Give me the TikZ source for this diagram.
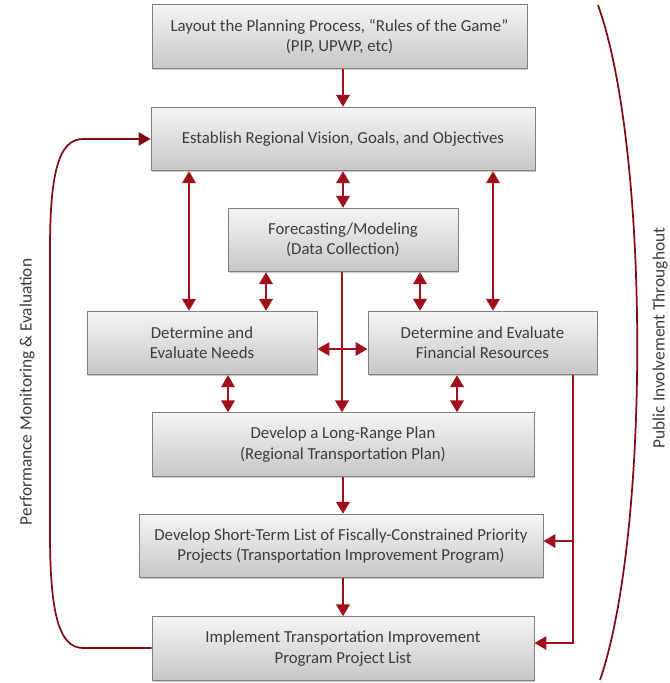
\documentclass[tikz,border=0pt]{standalone}
\usepackage{fontspec}
\setmainfont{Carlito}
\usetikzlibrary{arrows.meta,shadows}
\definecolor{arrred}{RGB}{160,16,28}
\definecolor{boxtxt}{RGB}{60,60,60}
\definecolor{boxline}{RGB}{128,128,128}
\tikzset{
  box/.style={draw=boxline, line width=0.7pt, top color=black!4, bottom color=black!22,
    minimum height=47.5pt, align=center, text=boxtxt, inner sep=2pt,
    font=\fontsize{12.6}{15.3}\selectfont,
    drop shadow={shadow xshift=1pt, shadow yshift=-1pt, opacity=0.35, fill=black!60}},
  arr/.style={draw=arrred, line width=1.9pt, -{Triangle[width=10pt,length=9pt]}},
  dbl/.style={draw=arrred, line width=1.9pt, {Triangle[width=10pt,length=9pt]}-{Triangle[width=10pt,length=9pt]}},
  side/.style={draw=arrred!80!black, line width=1.3pt},
  sidetxt/.style={text=boxtxt, font=\fontsize{13}{15}\selectfont, rotate=90}
}
\begin{document}
\begin{tikzpicture}[x=0.75pt,y=-0.75pt]
\useasboundingbox (0,0) rectangle (669,683);
% boxes
\node[box, minimum width=375*0.75pt] (lay) at (339.5,36.5) {Layout the Planning Process, “Rules of the Game”\\(PIP, UPWP, etc)};
\node[box, minimum width=384*0.75pt] (est) at (343,139) {Establish Regional Vision, Goals, and Objectives};
\node[box, minimum width=230*0.75pt] (fore) at (343,240) {Forecasting/Modeling\\(Data Collection)};
\node[box, minimum width=230*0.75pt] (needs) at (202,343) {Determine and\\Evaluate Needs};
\node[box, minimum width=229*0.75pt] (fin) at (482.5,343) {Determine and Evaluate\\Financial Resources};
\node[box, minimum width=382*0.75pt] (lrp) at (343,444.5) {Develop a Long-Range Plan\\(Regional Transportation Plan)};
\node[box, minimum width=404*0.75pt] (st) at (341,546) {Develop Short-Term List of Fiscally-Constrained Priority\\Projects (Transportation Improvement Program)};
\node[box, minimum width=382*0.75pt] (impl) at (343,648.5) {Implement Transportation Improvement\\Program Project List};
% side labels
\node[sidetxt] (pme) at (27,392) {Performance Monitoring \& Evaluation};
\node[sidetxt] (pit) at (660,338) {Public Involvement Throughout};
% main arrows
\draw[arr] (lay.south -| 343,0) -- (est.north -| 343,0);
\draw[dbl] (est.south -| 189,0) -- (needs.north -| 189,0);
\draw[dbl] (est.south -| 343,0) -- (fore.north -| 343,0);
\draw[dbl] (est.south -| 493,0) -- (fin.north -| 493,0);
\draw[dbl] (fore.south -| 266,0) -- (needs.north -| 266,0);
\draw[dbl] (fore.south -| 420,0) -- (fin.north -| 420,0);
\draw[arr] (fore.south -| 342,0) -- (lrp.north -| 342,0);
\draw[dbl] (needs.east |- 0,349) -- (fin.west |- 0,349);
\draw[dbl] (needs.south -| 228,0) -- (lrp.north -| 228,0);
\draw[dbl] (fin.south -| 457,0) -- (lrp.north -| 457,0);
\draw[arr] (lrp.south -| 343,0) -- (st.north -| 343,0);
\draw[arr] (st.south -| 343,0) -- (impl.north -| 343,0);
% right feed
\coordinate (j1) at (573,541);
\draw[arr] (fin.south -| 573,0) |- (impl.east |- 0,643);
\draw[arr] (j1) -- (st.east |- j1);
% left feedback
\draw[side, -{Triangle[width=10pt,length=9pt]}] (impl.west |- 0,648) -- (83,648)
  .. controls (58,648) and (50,610) .. (50,533) -- (50,250)
  .. controls (50,175) and (58,139) .. (83,139) -- (est.west |- 0,139);
% right brace
\draw[side] (598,5) .. controls (650,150) and (650,535) .. (600,680);
\end{tikzpicture}
\end{document}
